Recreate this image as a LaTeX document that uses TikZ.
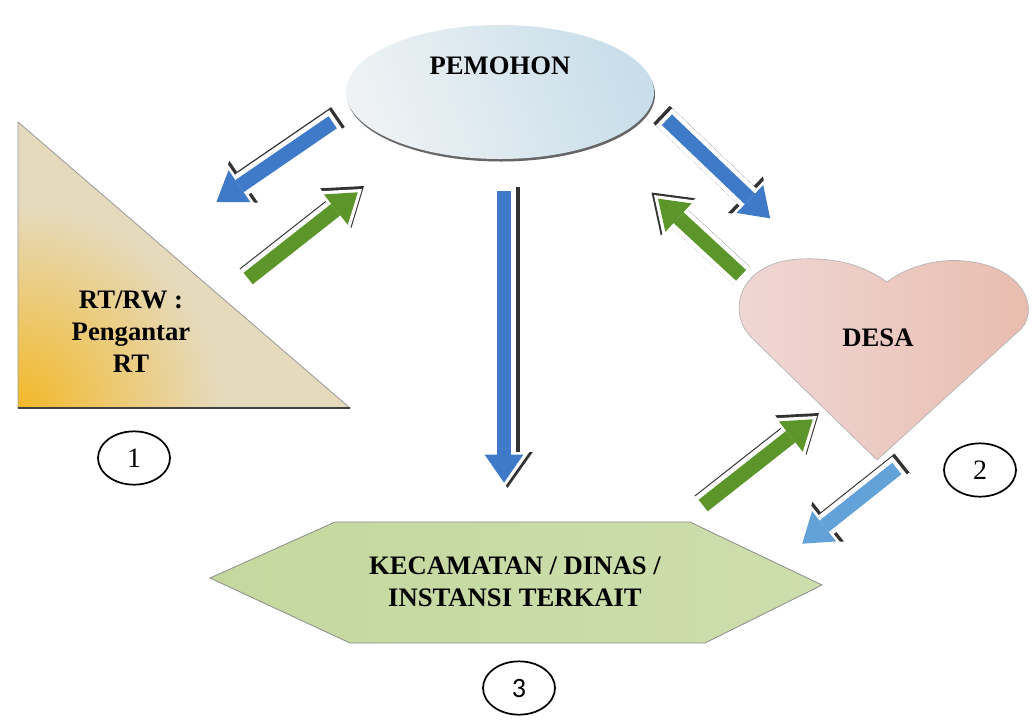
\documentclass[tikz,border=0pt]{standalone}
\usepackage{fontspec}
\setmainfont{Liberation Serif}
\newfontfamily\numfont{Carlito}
\usetikzlibrary{arrows.meta, positioning, shapes.geometric}

\definecolor{arrblue}{RGB}{62,122,200}
\definecolor{arrbluelight}{RGB}{98,162,216}
\definecolor{arrgreen}{RGB}{92,150,42}
\definecolor{trigold}{RGB}{242,184,40}
\definecolor{trimid}{RGB}{230,218,188}
\definecolor{heartpink}{RGB}{240,216,214}
\definecolor{heartsalmon}{RGB}{232,188,174}
\definecolor{hexgreen}{RGB}{196,216,158}
\definecolor{hexlight}{RGB}{226,235,208}
\definecolor{ellwhite}{RGB}{238,242,244}
\definecolor{ellblue}{RGB}{200,222,234}

\begin{document}
\begin{tikzpicture}[x=0.75pt,y=0.75pt,yscale=-1,xscale=1,
    boxtext/.style={font=\bfseries\fontsize{20}{24}\selectfont, align=center, inner sep=0.75pt},
    numring/.style={draw, line width=1.3pt, ellipse, minimum width=54pt, minimum height=40pt, inner sep=0pt, font=\fontsize{21}{24}\selectfont},
    arrshadow/.style={line width=18pt, draw=black!80, -{Triangle[length=27pt,width=38pt,line width=0pt]}},
    arrhalo/.style={line width=18pt, draw=white, -{Triangle[length=27pt,width=38pt,line width=0pt]}},
    arrbody/.style={line width=11pt, draw=#1, shorten >=4pt, shorten <=3pt, -{Triangle[length=21pt,width=29pt,line width=0pt]}},
  ]
  \useasboundingbox (0,0) rectangle (1032,719);
  \fill[white] (0,0) rectangle (1032,719);

  %Shape: Ellipse [pemohon]
  \fill[black!60] (501,94.5) ellipse (154 and 67);
  \shade[left color=ellwhite, right color=ellblue, shading angle=110] (500,92) ellipse (154 and 67);
  %Shape: Right Triangle [rt/rw]
  \begin{scope}
    \clip (18,122) -- (18,408) -- (350,408) -- cycle;
    \fill[trimid] (18,122) rectangle (350,408);
    \shade[inner color=trigold, outer color=trimid] (18,408) circle (200);
  \end{scope}
  \draw[draw=black!40, line width=0.6pt] (18,122) -- (18,408) -- (350,408) -- cycle;
  \draw[black!75, line width=1.2pt] (18,408) -- (350,408);
  %Shape: Heart [desa]
  \shade[left color=heartpink, right color=heartsalmon, draw=black!30, line width=0.5pt] (877,460) -- (752,338) .. controls (726,313) and (738,262) .. (800,259) .. controls (845,257) and (870,270) .. (887,282) .. controls (905,268) and (935,258) .. (965,261) .. controls (1020,266) and (1040,305) .. (1022,328) -- cycle;
  %Shape: Hexagon [kecamatan]
  \shade[left color=hexgreen, middle color=hexlight, right color=hexgreen!70!hexlight, draw=black!45, line width=0.6pt] (210,578) -- (335,522) -- (690,522) -- (822,585) -- (705,643) -- (350,643) -- cycle;

  % Text Node
  \node[boxtext] (pemohon) at (500,66) {PEMOHON};
  % Text Node
  \node[boxtext] (rtrw) at (131,332) {RT/RW :\\Pengantar\\RT};
  % Text Node
  \node[boxtext] (desa) at (878,338) {DESA};
  % Text Node
  \node[boxtext] (kecamatan) at (515,582) {KECAMATAN / DINAS /\\INSTANSI TERKAIT};
  % Number Nodes
  \node[numring] (num1) at (134,458) {1};
  \node[numring] (num2) at (980,470) {2};
  \node[numring] (num3) at (519,688) {\numfont 3};

  %Arrow ends
  \coordinate (pemToRTs) at (336,120);
  \coordinate (pemToRTe) at (212,205);
  \coordinate (rtToPems) at (245,281);
  \coordinate (rtToPeme) at (362,189);
  \coordinate (pemToDesas) at (664,117);
  \coordinate (pemToDesae) at (774,222);
  \coordinate (desaToPems) at (744,278);
  \coordinate (desaToPeme) at (654,195);
  \coordinate (pemToKecs) at (504,187);
  \coordinate (pemToKece) at (504,488);
  \coordinate (kecToDesas) at (700,508);
  \coordinate (kecToDesae) at (817,416);
  \coordinate (desaToKecs) at (900,466);
  \coordinate (desaToKece) at (798,547);

  %Arrow: pemohon -> rt/rw
  \draw[arrshadow, transform canvas={shift={(2,3)}}] (pemToRTs) -- (pemToRTe);
  \draw[arrhalo] (pemToRTs) -- (pemToRTe);
  \draw[arrbody=arrblue] (pemToRTs) -- (pemToRTe);
  %Arrow: rt/rw -> pemohon
  \draw[arrshadow, transform canvas={shift={(2,3)}}] (rtToPems) -- (rtToPeme);
  \draw[arrhalo] (rtToPems) -- (rtToPeme);
  \draw[arrbody=arrgreen] (rtToPems) -- (rtToPeme);
  %Arrow: pemohon -> desa
  \draw[arrshadow, transform canvas={shift={(-2.5,2.5)}}] (pemToDesas) -- (pemToDesae);
  \draw[arrhalo] (pemToDesas) -- (pemToDesae);
  \draw[arrbody=arrblue] (pemToDesas) -- (pemToDesae);
  %Arrow: desa -> pemohon
  \draw[arrshadow, transform canvas={shift={(-2.5,2.5)}}] (desaToPems) -- (desaToPeme);
  \draw[arrhalo] (desaToPems) -- (desaToPeme);
  \draw[arrbody=arrgreen] (desaToPems) -- (desaToPeme);
  %Arrow: pemohon -> kecamatan
  \draw[arrshadow, transform canvas={shift={(3.5,0)}}] (pemToKecs) -- (pemToKece);
  \draw[arrhalo] (pemToKecs) -- (pemToKece);
  \draw[arrbody=arrblue] (pemToKecs) -- (pemToKece);
  %Arrow: kecamatan -> desa
  \draw[arrshadow, transform canvas={shift={(2,3)}}] (kecToDesas) -- (kecToDesae);
  \draw[arrhalo] (kecToDesas) -- (kecToDesae);
  \draw[arrbody=arrgreen] (kecToDesas) -- (kecToDesae);
  %Arrow: desa -> kecamatan
  \draw[arrshadow, transform canvas={shift={(2,3)}}] (desaToKecs) -- (desaToKece);
  \draw[arrhalo] (desaToKecs) -- (desaToKece);
  \draw[arrbody=arrbluelight] (desaToKecs) -- (desaToKece);

\end{tikzpicture}
\end{document}
